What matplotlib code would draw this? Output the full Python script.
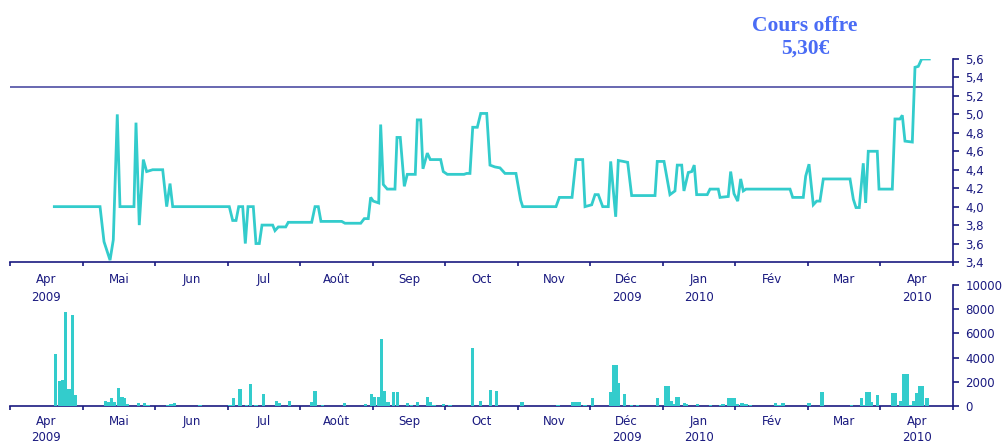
import matplotlib
matplotlib.use("Agg")
import matplotlib.pyplot as plt
import numpy as np

# ---------------- data ----------------
# time expressed in months since 1 April 2009 (0 = start of April 2009)
mois_labels = ["Apr\n2009", "Mai", "Jun", "Jul", "Août", "Sep", "Oct", "Nov",
               "Déc\n2009", "Jan\n2010", "Fév", "Mar", "Apr\n2010"]

t_cours = [0.611, 1.241, 1.296, 1.379, 1.424, 1.479, 1.516, 1.709, 1.737, 1.782,
           1.838, 1.884, 1.967, 2.105, 2.160, 2.206, 2.243, 3.023, 3.070, 3.116,
           3.153, 3.208, 3.244, 3.281, 3.354, 3.391, 3.437, 3.474, 3.621, 3.653,
           3.699, 3.801, 3.836, 4.159, 4.205, 4.250, 4.287, 4.573, 4.618, 4.835,
           4.884, 4.939, 4.972, 5.008, 5.083, 5.110, 5.146, 5.201, 5.307, 5.335,
           5.380, 5.436, 5.477, 5.587, 5.615, 5.662, 5.693, 5.753, 5.794, 5.937,
           5.973, 6.029, 6.259, 6.296, 6.341, 6.379, 6.442, 6.489, 6.572, 6.617,
           6.686, 6.755, 6.824, 6.975, 7.040, 7.068, 7.527, 7.573, 7.748, 7.803,
           7.895, 7.927, 8.019, 8.065, 8.110, 8.171, 8.248, 8.281, 8.350, 8.386,
           8.455, 8.515, 8.570, 8.892, 8.923, 9.016, 9.098, 9.167, 9.199, 9.260,
           9.291, 9.351, 9.398, 9.433, 9.466, 9.612, 9.650, 9.764, 9.788, 9.902,
           9.935, 9.981, 10.032, 10.073, 10.109, 10.146, 10.753, 10.790, 10.936, 10.969,
           11.015, 11.074, 11.121, 11.166, 11.212, 11.580, 11.626, 11.663, 11.708, 11.763,
           11.796, 11.832, 11.956, 11.980, 12.163, 12.200, 12.269, 12.301, 12.338, 12.439,
           12.476, 12.521, 12.568, 12.673]

cours = [4.00, 4.00, 3.62, 3.42, 3.64, 5.00, 4.00, 4.00, 4.91, 3.80,
         4.51, 4.38, 4.40, 4.40, 4.00, 4.25, 4.00, 4.00, 3.85, 3.85,
         4.00, 4.00, 3.60, 4.00, 4.00, 3.60, 3.60, 3.80, 3.80, 3.74,
         3.78, 3.78, 3.83, 3.83, 4.00, 4.00, 3.84, 3.84, 3.82, 3.82,
         3.87, 3.87, 4.10, 4.06, 4.04, 4.89, 4.24, 4.19, 4.19, 4.75,
         4.75, 4.22, 4.35, 4.35, 4.94, 4.94, 4.41, 4.58, 4.51, 4.51,
         4.38, 4.35, 4.35, 4.36, 4.36, 4.86, 4.86, 5.01, 5.01, 4.45,
         4.43, 4.42, 4.36, 4.36, 4.07, 4.00, 4.00, 4.10, 4.10, 4.51,
         4.51, 4.00, 4.02, 4.13, 4.13, 4.00, 4.00, 4.49, 3.89, 4.50,
         4.49, 4.48, 4.12, 4.12, 4.49, 4.49, 4.13, 4.17, 4.45, 4.45,
         4.17, 4.37, 4.38, 4.45, 4.13, 4.13, 4.19, 4.19, 4.10, 4.11,
         4.38, 4.14, 4.06, 4.30, 4.17, 4.19, 4.19, 4.10, 4.10, 4.33,
         4.46, 4.02, 4.06, 4.06, 4.30, 4.30, 4.08, 3.99, 3.99, 4.47,
         4.04, 4.60, 4.60, 4.19, 4.19, 4.95, 4.95, 4.99, 4.71, 4.70,
         5.51, 5.52, 5.60, 5.60]

cours_offre = 5.30

t_volume = [0.627, 0.678, 0.721, 0.765, 0.813, 0.862, 0.903, 1.319, 1.365, 1.396,
            1.438, 1.493, 1.544, 1.581, 1.617, 1.769, 1.851, 1.902, 2.174, 2.219,
            2.265, 2.619, 3.033, 3.084, 3.171, 3.257, 3.313, 3.391, 3.497, 3.671,
            3.712, 3.856, 4.163, 4.205, 4.305, 4.608, 4.898, 4.981, 5.028, 5.077,
            5.118, 5.160, 5.211, 5.289, 5.344, 5.477, 5.532, 5.615, 5.753, 5.794,
            5.845, 5.973, 6.066, 6.373, 6.483, 6.627, 6.704, 7.058, 7.554, 7.757,
            7.803, 7.848, 7.927, 8.027, 8.285, 8.318, 8.360, 8.386, 8.469, 8.571,
            8.648, 8.923, 9.040, 9.082, 9.112, 9.149, 9.185, 9.215, 9.295, 9.328,
            9.475, 9.654, 9.792, 9.829, 9.902, 9.943, 9.984, 10.031, 10.090, 10.146,
            10.211, 10.550, 10.601, 10.656, 11.015, 11.194, 11.598, 11.736, 11.777, 11.813,
            11.848, 11.879, 11.956, 12.175, 12.208, 12.284, 12.322, 12.368, 12.421, 12.462,
            12.503, 12.540, 12.572, 12.641]

volume = [4300, 2050, 2150, 7750, 1400, 7500, 900, 400, 330, 660,
          330, 1480, 740, 690, 165, 250, 250, 80, 80, 165,
          250, 80, 80, 660, 1400, 80, 1815, 80, 990, 410,
          250, 410, 330, 1240, 80, 250, 165, 990, 740, 740,
          5530, 1240, 330, 1155, 1155, 250, 80, 330, 740, 330,
          80, 165, 80, 4785, 410, 1320, 1240, 330, 80, 330,
          330, 330, 80, 660, 1155, 3380, 3380, 1900, 990, 80,
          80, 660, 1650, 1650, 410, 165, 740, 740, 250, 165,
          165, 80, 80, 165, 660, 660, 660, 165, 250, 165,
          80, 250, 80, 250, 250, 1155, 80, 660, 80, 1155,
          1155, 330, 910, 1070, 1070, 410, 2640, 2640, 80, 410,
          1070, 1650, 1650, 660]

# ---------------- style ----------------
NAVY = "#1a1a80"
TURQ = "#33CCCC"
LINE_OFFRE = "#5c5caa"
TITLE_BLUE = "#4a6cf5"
FONT = "DejaVu Sans"
FS = 8.5

W, H = 1006, 444
fig = plt.figure(figsize=(W / 100, H / 100), dpi=100)


def box(x0, y_top, x1, y_bot):
    return [x0 / W, 1 - y_bot / H, (x1 - x0) / W, (y_bot - y_top) / H]


ax1 = fig.add_axes(box(10, 59, 953, 262))
ax2 = fig.add_axes(box(10, 285, 953, 406))

for ax, pad, ls in ((ax1, 8, 1.45), (ax2, 6.5, 1.32)):
    ax.set_facecolor("none")
    for s in ("left", "top"):
        ax.spines[s].set_visible(False)
    for s in ("right", "bottom"):
        ax.spines[s].set_color(NAVY)
        ax.spines[s].set_linewidth(1.2)
    ax.set_xlim(0, 13)
    ax.set_xticks(np.arange(0, 14))
    ax.set_xticklabels([])
    ax.set_xticks(np.arange(13) + 0.5, minor=True)
    ax.set_xticklabels(mois_labels, minor=True, fontsize=FS, color=NAVY,
                       family=FONT, linespacing=ls)
    ax.tick_params(axis="x", which="major", direction="out", length=3,
                   width=1.2, color=NAVY)
    ax.tick_params(axis="x", which="minor", length=0, pad=pad)
    ax.yaxis.tick_right()
    ax.tick_params(axis="y", which="major", direction="out", length=4,
                   width=1.2, color=NAVY, labelsize=FS, labelcolor=NAVY, pad=5)

# --- price chart ---
ax1.plot(t_cours, cours, color=TURQ, lw=2.0, solid_joinstyle="miter", zorder=3)
ax1.axhline(cours_offre, color=LINE_OFFRE, lw=1.3, zorder=2)
ax1.set_ylim(3.4, 5.6)
yt = np.round(np.arange(3.4, 5.61, 0.2), 1)
ax1.set_yticks(yt)
ax1.set_yticklabels([f"{v:.1f}".replace(".", ",") for v in yt],
                    fontsize=FS, color=NAVY, family=FONT)

fig.text(805 / W, 1 - 37 / H, "Cours offre\n5,30€", ha="center", va="center",
         fontsize=15.5, fontweight="bold", family="Liberation Serif",
         color=TITLE_BLUE, linespacing=1.15)

# --- volume chart ---
ax2.bar(t_volume, volume, width=0.046, color=TURQ, linewidth=0, zorder=3)
ax2.set_ylim(0, 10000)
vt = np.arange(0, 10001, 2000)
ax2.set_yticks(vt)
ax2.set_yticklabels([str(v) for v in vt], fontsize=FS, color=NAVY, family=FONT)

fig.savefig("out.png", dpi=100)
